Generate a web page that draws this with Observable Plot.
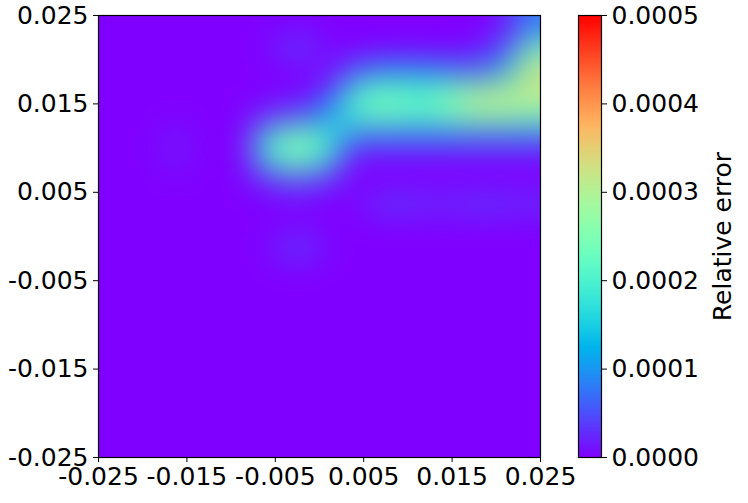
<!DOCTYPE html>
<html>
<head>
<meta charset="utf-8">
<script src="https://cdn.jsdelivr.net/npm/d3@7"></script>
<script src="https://cdn.jsdelivr.net/npm/@observablehq/plot@0.6"></script>
<style>
  html, body { margin: 0; padding: 0; background: #fff; }
  #wrap { position: relative; width: 748px; height: 503px; overflow: hidden; }
  #main { position: absolute; left: 0; top: 0; }
  #bar { position: absolute; left: 560px; top: 0; }
</style>
</head>
<body>
<div id="wrap"><div id="main"></div><div id="bar"></div></div>
<script>
// ---- data ----
const axisTicks = [-0.025, -0.015, -0.005, 0.005, 0.015, 0.025];
const colorTicks = [0, 0.0001, 0.0002, 0.0003, 0.0004, 0.0005];
const colorDomain = [0, 0.0005];
const colorLabel = "Relative error";

// cell centres of the 20 x 20 error grid
const gridX = [-0.02375, -0.02125, -0.01875, -0.01625, -0.01375, -0.01125, -0.00875, -0.00625, -0.00375, -0.00125,
                0.00125, 0.00375, 0.00625, 0.00875, 0.01125, 0.01375, 0.01625, 0.01875, 0.02125, 0.02375];
const gridY = [0.02375, 0.02125, 0.01875, 0.01625, 0.01375, 0.01125, 0.00875, 0.00625, 0.00375, 0.00125,
               -0.00125, -0.00375, -0.00625, -0.00875, -0.01125, -0.01375, -0.01625, -0.01875, -0.02125, -0.02375];

// non-zero cells: [x, y, relative error]; every other cell is 0
const hotCells = [
  // blob near (-0.0025, 0.010)
  [-0.00625, 0.01125, 0.00018], [-0.00375, 0.01125, 0.00025], [-0.00125, 0.01125, 0.00025], [0.00125, 0.01125, 0.00019],
  [-0.00625, 0.00875, 0.00017], [-0.00375, 0.00875, 0.00024], [-0.00125, 0.00875, 0.00024], [0.00125, 0.00875, 0.00016],
  [-0.00625, 0.01375, 0.00002], [-0.00375, 0.01375, 0.00005], [-0.00125, 0.01375, 0.00006],
  [-0.00625, 0.00625, 0.00002], [-0.00375, 0.00625, 0.00005], [-0.00125, 0.00625, 0.00005], [0.00125, 0.00625, 0.00002],
  // bridge
  [0.00125, 0.01375, 0.00012], [0.00125, 0.01625, 0.00005],
  // band at y ~ 0.015
  [0.00375, 0.01625, 0.00019], [0.00625, 0.01625, 0.00024], [0.00875, 0.01625, 0.00023], [0.01125, 0.01625, 0.00021],
  [0.01375, 0.01625, 0.00023], [0.01625, 0.01625, 0.00028], [0.01875, 0.01625, 0.00031], [0.02125, 0.01625, 0.00031],
  [0.02375, 0.01625, 0.00032],
  [0.00375, 0.01375, 0.00020], [0.00625, 0.01375, 0.00024], [0.00875, 0.01375, 0.00023], [0.01125, 0.01375, 0.00021],
  [0.01375, 0.01375, 0.00023], [0.01625, 0.01375, 0.00027], [0.01875, 0.01375, 0.00029], [0.02125, 0.01375, 0.00028],
  [0.02375, 0.01375, 0.00026],
  [0.00375, 0.01875, 0.00006], [0.00625, 0.01875, 0.00009], [0.00875, 0.01875, 0.00010], [0.01125, 0.01875, 0.00010],
  [0.01375, 0.01875, 0.00009], [0.01625, 0.01875, 0.00008], [0.01875, 0.01875, 0.00007], [0.02125, 0.01875, 0.00015],
  [0.02375, 0.01875, 0.00033],
  [0.01875, 0.02125, 0.00002], [0.02125, 0.02125, 0.00006], [0.02375, 0.02125, 0.00024],
  [0.02125, 0.02375, 0.00002], [0.02375, 0.02375, 0.00008],
  [0.00375, 0.01125, 0.00008], [0.00625, 0.01125, 0.00008], [0.00875, 0.01125, 0.00008], [0.01125, 0.01125, 0.00008],
  [0.01375, 0.01125, 0.00008], [0.01625, 0.01125, 0.00008], [0.01875, 0.01125, 0.00008], [0.02125, 0.01125, 0.00008],
  [0.02375, 0.01125, 0.00008],
  // faint spots
  [-0.00375, 0.02125, 0.00004], [-0.00125, 0.02125, 0.00004],
  [-0.00375, -0.00125, 0.00004], [-0.00125, -0.00125, 0.00004],
  [0.00625, 0.00375, 0.00003], [0.00875, 0.00375, 0.00004], [0.01125, 0.00375, 0.00003], [0.01375, 0.00375, 0.00003],
  [0.01625, 0.00375, 0.00003], [0.01875, 0.00375, 0.00004], [0.02125, 0.00375, 0.00003], [0.02375, 0.00375, 0.00003],
  [-0.01625, 0.01125, 0.00002], [-0.01625, 0.00875, 0.00002]
];

// ---- build the table ----
const key = (x, y) => `${x.toFixed(5)},${y.toFixed(5)}`;
const hot = new Map(hotCells.map(([x, y, v]) => [key(x, y), v]));
const cells = [];
for (const y of gridY) for (const x of gridX) cells.push({x, y, v: hot.get(key(x, y)) ?? 0});

// matplotlib "rainbow" colormap
const rainbow = (t) => {
  const r = Math.min(1, Math.abs(2 * t - 0.5));
  const g = Math.sin(Math.PI * t);
  const b = Math.cos(Math.PI * t / 2);
  return `rgb(${Math.round(r * 255)},${Math.round(g * 255)},${Math.round(b * 255)})`;
};
const colorOpts = {type: "linear", domain: colorDomain, interpolate: rainbow, clamp: true};
const font = {fontFamily: "DejaVu Sans", fontSize: "25px", color: "#000", background: "transparent"};

const main = Plot.plot({
  width: 580, height: 503,
  marginLeft: 98, marginRight: 40, marginTop: 15, marginBottom: 46,
  style: font,
  x: {domain: [-0.025, 0.025], ticks: axisTicks, tickFormat: d => d.toFixed(3), label: null, tickSize: 5, tickPadding: 5},
  y: {domain: [-0.025, 0.025], ticks: axisTicks, tickFormat: d => d.toFixed(3), label: null, tickSize: 5, tickPadding: 5},
  color: colorOpts,
  marks: [
    Plot.raster(cells, {x: "x", y: "y", fill: "v", interpolate: "nearest", blur: 15}),
    Plot.frame({stroke: "#000", strokeWidth: 1.2})
  ]
});
document.getElementById("main").append(main);

const bar = Plot.plot({
  width: 188, height: 503,
  marginLeft: 18, marginRight: 147, marginTop: 15, marginBottom: 46,
  style: font,
  x: {domain: [0, 1], axis: null},
  y: {domain: colorDomain, ticks: colorTicks, tickFormat: d => d.toFixed(4), axis: "right", label: null, tickSize: 5, tickPadding: 5},
  color: colorOpts,
  marks: [
    Plot.raster({x1: 0, x2: 1, y1: 0, y2: 0.0005, width: 1, height: 256, fill: (x, y) => y}),
    Plot.frame({stroke: "#000", strokeWidth: 1.2}),
    Plot.text([colorLabel], {frameAnchor: "right", dx: 121, rotate: -90, textAnchor: "middle", fontSize: 25})
  ]
});
document.getElementById("bar").append(bar);
</script>
</body>
</html>
